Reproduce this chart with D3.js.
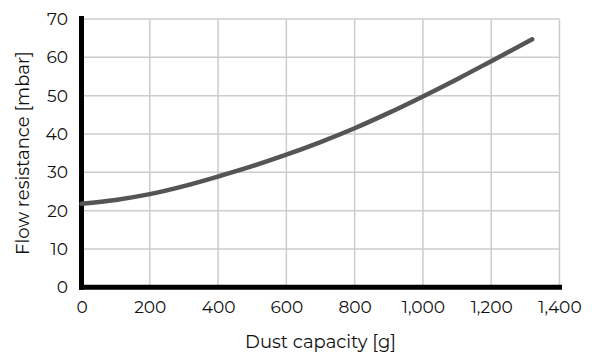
<!DOCTYPE html>
<html><head><meta charset="utf-8">
<script src="https://cdn.jsdelivr.net/npm/d3@7"></script>
<style>body{margin:0;background:#fff}svg{display:block}text{font-family:"Montserrat","Lato","Open Sans",sans-serif;fill:#111}</style>
</head><body><svg id="c" width="592" height="352"></svg>
<script>
const dustCapacity = [0, 100, 200, 300, 400, 500, 600, 700, 800, 900, 1000, 1100, 1200, 1320];
const flowResistance = [21.8, 22.8, 24.3, 26.4, 28.9, 31.6, 34.6, 37.9, 41.5, 45.5, 49.8, 54.3, 59.0, 64.7];
const xTicks = [0, 200, 400, 600, 800, 1000, 1200, 1400];
const yTicks = [0, 10, 20, 30, 40, 50, 60, 70];
const xTitle = "Dust capacity [g]";
const yTitle = "Flow resistance [mbar]";

const FONT = "Montserrat, Lato, 'Open Sans', sans-serif";
const svg = d3.select("#c");
const x = d3.scaleLinear().domain([0, 1400]).range([81.5, 559.5]);
const y = d3.scaleLinear().domain([0, 70]).range([287.3, 19]);

// grid
svg.append("g").selectAll("line").data(xTicks.slice(1)).join("line")
  .attr("x1", d => x(d)).attr("x2", d => x(d)).attr("y1", y(70)).attr("y2", y(0))
  .attr("stroke", "#cccccc").attr("stroke-width", 1.5);
svg.append("g").selectAll("line").data(yTicks.slice(1)).join("line")
  .attr("x1", x(0)).attr("x2", x(1400)).attr("y1", d => y(d)).attr("y2", d => y(d))
  .attr("stroke", "#cccccc").attr("stroke-width", 1.5);

// axes labels via d3 axes
const fmt = d3.format(",");
const xa = svg.append("g").attr("transform", `translate(0,${y(0)})`)
  .call(d3.axisBottom(x).tickValues(xTicks).tickFormat(fmt).tickSize(0).tickPadding(13.5));
xa.select(".domain").remove();
xa.selectAll("text").attr("font-size", 17).attr("fill", "#111").attr("font-family", FONT);
const ya = svg.append("g").attr("transform", `translate(${x(0)},0)`)
  .call(d3.axisLeft(y).tickValues(yTicks).tickSize(0).tickPadding(13.5));
ya.select(".domain").remove();
ya.selectAll("text").attr("font-size", 17).attr("fill", "#111").attr("font-family", FONT);

// thick axis lines
svg.append("line").attr("x1", x(0)).attr("x2", x(0)).attr("y1", 16).attr("y2", y(0) + 2.5)
  .attr("stroke", "#000").attr("stroke-width", 5);
svg.append("line").attr("x1", x(0) - 2.5).attr("x2", x(1400) + 2.5).attr("y1", y(0)).attr("y2", y(0))
  .attr("stroke", "#000").attr("stroke-width", 5);

// curve
const line = d3.line().x((d, i) => x(dustCapacity[i])).y(d => y(d)).curve(d3.curveCatmullRom);
svg.append("path").datum(flowResistance).attr("d", line)
  .attr("fill", "none").attr("stroke", "#555555").attr("stroke-width", 4.5).attr("stroke-linecap", "round");

// titles
svg.append("text").attr("x", (x(0) + x(1400)) / 2).attr("y", 347.5).attr("text-anchor", "middle")
  .attr("font-size", 18).text(xTitle);
svg.append("text").attr("transform", `translate(29,${(y(0) + y(70)) / 2}) rotate(-90)`).attr("text-anchor", "middle")
  .attr("font-size", 18).text(yTitle);
</script></body></html>
